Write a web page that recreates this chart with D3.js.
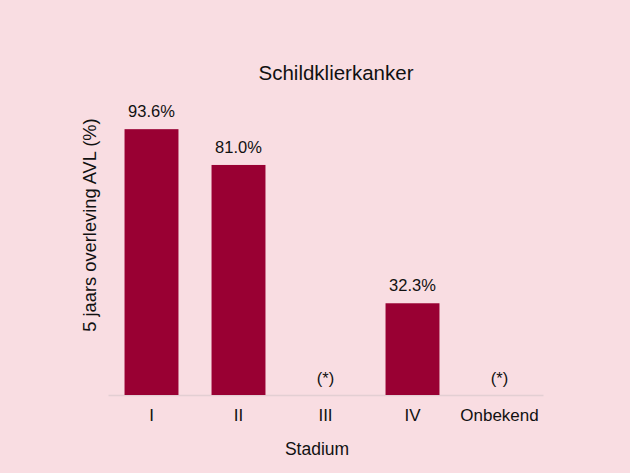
<!DOCTYPE html>
<html>
<head>
<meta charset="utf-8">
<script src="https://cdn.jsdelivr.net/npm/d3@7"></script>
<style>
  body { margin: 0; background: #f9dde2; }
  svg { display: block; font-family: "Liberation Sans", Arial, sans-serif; }
</style>
</head>
<body>
<div id="wrapper"></div>
<script>
const stages = ["I", "II", "III", "IV", "Onbekend"]
const survival = [93.6, 81.0, null, 32.3, null]
const missingLabel = "(*)"

function drawChart() {
  let dimensions = {
    width: 630,
    height: 473,
    margin: { top: 111, right: 87, bottom: 78, left: 108 }
  }
  dimensions.boundedWidth = dimensions.width - dimensions.margin.left - dimensions.margin.right
  dimensions.boundedHeight = dimensions.height - dimensions.margin.top - dimensions.margin.bottom

  const wrapper = d3.select("#wrapper")
    .append("svg")
      .attr("width", dimensions.width)
      .attr("height", dimensions.height)
      .style("background", "#f9dde2")

  const bounds = wrapper.append("g")
    .attr("transform", `translate(${dimensions.margin.left},${dimensions.margin.top})`)

  const xScale = d3.scaleBand()
    .domain(stages)
    .range([0, dimensions.boundedWidth])
    .paddingInner(0.38)
    .paddingOuter(0.19)

  const yScale = d3.scaleLinear()
    .domain([0, 100])
    .range([dimensions.boundedHeight, 0])

  const data = stages.map((s, i) => ({ stage: s, value: survival[i] }))

  // baseline
  const xAxis = bounds.append("g")
    .attr("transform", `translate(0,${dimensions.boundedHeight})`)
    .call(d3.axisBottom(xScale).tickSize(0).tickPadding(14))
  xAxis.select(".domain").attr("stroke", "#e3cfd3").attr("stroke-width", 1.5)
  xAxis.selectAll("text")
    .attr("font-size", 17)
    .attr("fill", "#111")
    .attr("font-family", "'Liberation Sans', Arial, sans-serif")

  bounds.selectAll("rect.bar")
    .data(data.filter(d => d.value != null))
    .join("rect")
      .attr("class", "bar")
      .attr("x", d => xScale(d.stage))
      .attr("y", d => yScale(d.value))
      .attr("width", xScale.bandwidth())
      .attr("height", d => dimensions.boundedHeight - yScale(d.value))
      .attr("fill", "#990033")

  bounds.selectAll("text.val")
    .data(data)
    .join("text")
      .attr("class", "val")
      .attr("x", d => xScale(d.stage) + xScale.bandwidth() / 2)
      .attr("y", d => d.value != null ? yScale(d.value) - 12 : dimensions.boundedHeight - 11)
      .attr("text-anchor", "middle")
      .attr("font-size", 16.5)
      .attr("fill", "#111")
      .text(d => d.value != null ? d.value.toFixed(1) + "%" : missingLabel)

  wrapper.append("text")
    .attr("x", 336)
    .attr("y", 80)
    .attr("text-anchor", "middle")
    .attr("font-size", 20.5)
    .attr("fill", "#111")
    .text("Schildklierkanker")

  wrapper.append("text")
    .attr("x", 317)
    .attr("y", 455)
    .attr("text-anchor", "middle")
    .attr("font-size", 17.5)
    .attr("fill", "#111")
    .text("Stadium")

  wrapper.append("text")
    .attr("transform", `translate(96,225) rotate(-90)`)
    .attr("text-anchor", "middle")
    .attr("font-size", 18.3)
    .attr("fill", "#111")
    .text("5 jaars overleving AVL (%)")
}

drawChart()
</script>
</body>
</html>
